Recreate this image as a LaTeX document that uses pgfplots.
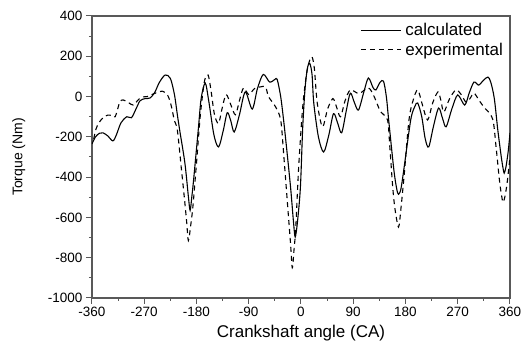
\documentclass[border=0pt]{standalone}
\usepackage{pgfplots}
\pgfplotsset{compat=1.18}
\usepackage{fontspec}
\setmainfont{Liberation Sans}
\begin{document}
\begin{tikzpicture}
\begin{axis}[
  name=ax,
  scale only axis,
  width=418pt, height=282pt,
  xmin=-360, xmax=360, ymin=-1000, ymax=400,
  xtick={-360,-270,...,360},
  ytick={-1000,-800,...,400},
  minor x tick num=1, minor y tick num=1,
  tick align=outside,
  xtick pos=left, ytick pos=left,
  major tick length=6pt, minor tick length=3pt,
  axis line style={black!65, line width=1.3pt},
  every tick/.style={black!65, line width=1pt},
  /pgf/number format/assume math mode=true,
  /pgf/number format/1000 sep={},
  tick label style={font=\fontsize{13.5}{15}\selectfont},
  xlabel={Crankshaft angle (CA)},
  ylabel={Torque (Nm)},
  xlabel style={font=\fontsize{17}{19}\selectfont, at={(axis description cs:0.5,-0.124)}, anchor=center},
  ylabel style={font=\fontsize{14}{16}\selectfont, at={(axis description cs:-0.175,0.5)}, anchor=center, rotate=0},
  legend style={draw=none, fill=none, at={(axis description cs:1,1)}, anchor=north east,
    xshift=-1pt, yshift=-3pt, font=\fontsize{17}{19}\selectfont, row sep=2pt, inner sep=2pt,
    nodes={inner xsep=4pt}},
  legend cell align=left,
  legend image code/.code={\draw[#1] (0pt,0pt) -- (40pt,0pt);},
  clip=true,
]
\addplot[black, line width=1.1pt, smooth, tension=0.5] coordinates {
(-360,-235) (-354,-200) (-347,-182) (-341,-180) (-333,-195) (-324,-220) (-318,-190)
(-310,-130) (-300,-100) (-292,-105) (-284,-60) (-277,-20) (-268,-10) (-260,-7)
(-252,20) (-244,70) (-234,107) (-225,90) (-218,10) (-213,-90) (-209,-166)
(-200,-330) (-194,-496) (-191,-565) (-188,-496) (-185,-414) (-177,-166) (-172,-10)
(-165,67) (-159,-20) (-150,-190) (-142,-250) (-134,-170) (-127,-80) (-121,-120)
(-115,-176) (-106,-90) (-96,23) (-84,-62) (-75,40) (-65,110) (-54,72) (-45,85)
(-41,85) (-35,0) (-30,-116) (-25,-250) (-18,-449) (-13,-620) (-10,-697) (-6,-620)
(-1,-449) (3,-150) (7,40) (11,140) (15,165) (19,110) (22,-32) (30,-200) (39,-275)
(48,-190) (56,-85) (63,-130) (70,-180) (78,-70) (85,17) (92,-30) (99,-67) (108,20)
(116,92) (124,45) (129,33) (136,70) (142,77) (147,0) (151,-116) (160,-365)
(165,-460) (168,-485) (172,-460) (177,-365) (189,-116) (196,-50) (201,-32)
(208,-100) (214,-210) (220,-250) (228,-150) (237,-57) (244,-110) (250,-150)
(260,-60) (270,8) (282,-42) (290,20) (298,72) (306,57) (314,80) (322,97) (327,70)
(333,-10) (339,-166) (345,-300) (348,-355) (350,-380) (353,-350) (357,-270) (360,-180)
};
\addlegendentry{calculated}
\addplot[black, line width=1.1pt, dash pattern=on 5pt off 4pt, smooth, tension=0.5] coordinates {
(-357,-210) (-353,-160) (-348,-130) (-341,-105) (-333,-92) (-325,-95) (-320,-100)
(-312,-27) (-306,-17) (-297,-30) (-289,-42) (-280,-15) (-274,-2) (-265,0) (-251,17)
(-239,27) (-230,8) (-224,-40) (-218,-120) (-213,-166) (-206,-360) (-201,-500)
(-197,-620) (-194,-715) (-190,-640) (-186,-540) (-180,-330) (-173,-80) (-166,80)
(-160,107) (-155,30) (-149,-90) (-142,-133) (-136,-60) (-129,10) (-121,-40)
(-113,-90) (-106,-20) (-99,43) (-90,10) (-80,40) (-70,48) (-61,48) (-56,0)
(-44,-50) (-35,-116) (-30,-280) (-22,-580) (-18,-730) (-15,-850) (-12,-760)
(-9,-650) (-4,-350) (3,-50) (10,120) (15,180) (19,197) (23,140) (28,-32) (37,-150)
(46,-60) (55,-10) (61,-50) (68,-100) (76,-20) (85,33) (100,15) (116,43) (126,0)
(137,-75) (149,-116) (153,-250) (158,-450) (162,-560) (168,-648) (172,-560)
(178,-380) (186,-116) (193,-20) (201,33) (209,-40) (218,-116) (227,-30) (236,23)
(241,-20) (246,-77) (256,-10) (267,33) (276,10) (284,-27) (291,-10) (298,17)
(307,-20) (315,-52) (330,-110) (336,-250) (342,-420) (346,-500) (348,-525)
(351,-500) (355,-430) (360,-300)
};
\addlegendentry{experimental}
\end{axis}
\path ([xshift=-92pt,yshift=-47pt]ax.south west) rectangle ([xshift=15pt,yshift=16pt]ax.north east);
\end{tikzpicture}
\end{document}
